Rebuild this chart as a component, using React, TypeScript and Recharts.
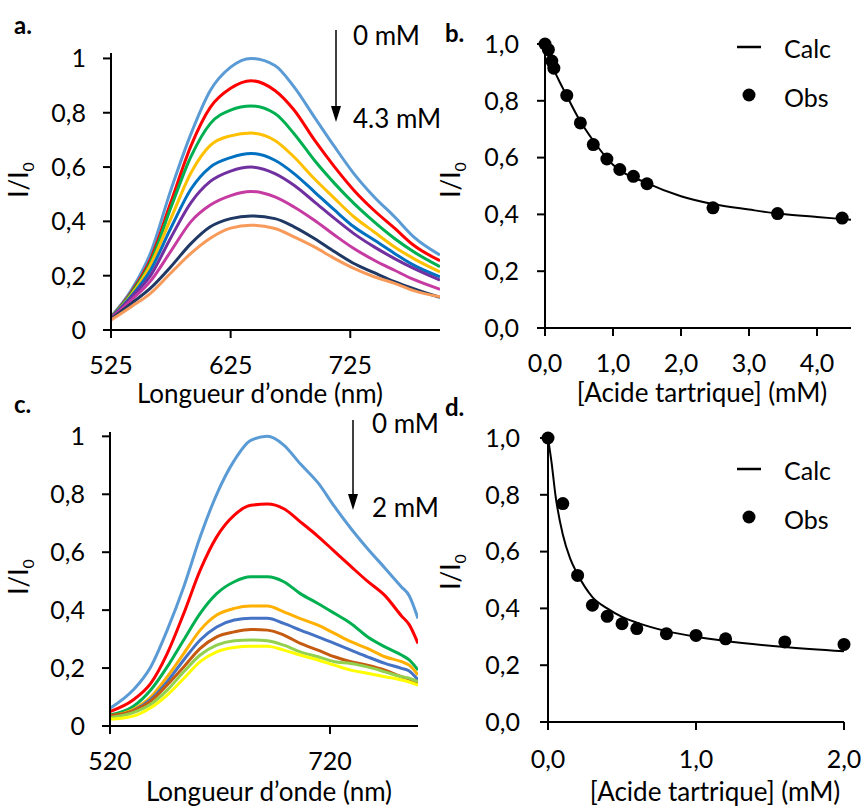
import { ComposedChart, Label, Legend, Line, LineChart, Scatter, XAxis, YAxis } from 'recharts'

const font = 'Lato, "Open Sans", sans-serif'

// panel a: emission spectra, 0 -> 4.3 mM
const wlA = [525, 542, 558, 575, 592, 608, 625, 642, 662, 678, 695, 712, 728, 745, 762, 778, 800]
const a1 = [0.049, 0.147, 0.283, 0.515, 0.724, 0.882, 0.968, 1.0, 0.974, 0.895, 0.784, 0.674, 0.576, 0.49, 0.417, 0.343, 0.276]
const a2 = [0.047, 0.14, 0.26, 0.47, 0.68, 0.82, 0.89, 0.918, 0.882, 0.81, 0.7, 0.6, 0.515, 0.44, 0.375, 0.312, 0.255]
const a3 = [0.046, 0.136, 0.25, 0.45, 0.64, 0.76, 0.81, 0.825, 0.797, 0.723, 0.625, 0.539, 0.466, 0.398, 0.337, 0.288, 0.233]
const a4 = [0.045, 0.13, 0.24, 0.41, 0.58, 0.68, 0.715, 0.725, 0.698, 0.637, 0.557, 0.484, 0.417, 0.361, 0.306, 0.263, 0.214]
const a5 = [0.044, 0.125, 0.22, 0.375, 0.52, 0.6, 0.635, 0.65, 0.625, 0.576, 0.509, 0.441, 0.38, 0.331, 0.282, 0.239, 0.196]
const a6 = [0.043, 0.12, 0.2, 0.34, 0.47, 0.547, 0.585, 0.6, 0.576, 0.533, 0.472, 0.41, 0.355, 0.306, 0.263, 0.227, 0.184]
const a7 = [0.042, 0.11, 0.18, 0.29, 0.4, 0.46, 0.495, 0.51, 0.49, 0.453, 0.404, 0.349, 0.3, 0.257, 0.22, 0.186, 0.15]
const a8 = [0.04, 0.098, 0.154, 0.233, 0.319, 0.38, 0.41, 0.42, 0.41, 0.38, 0.337, 0.288, 0.245, 0.211, 0.178, 0.152, 0.12]
const a9 = [0.037, 0.086, 0.135, 0.21, 0.283, 0.338, 0.375, 0.386, 0.374, 0.343, 0.306, 0.263, 0.227, 0.196, 0.172, 0.145, 0.122]
const seriesA = [a1, a2, a3, a4, a5, a6, a7, a8, a9]
const colorsA = ['#5B9BD5', '#FF0000', '#00B050', '#FFC000', '#0070C0', '#7030A0', '#C63BA2', '#203864', '#F79A5A']

// panel c: emission spectra, 0 -> 2 mM
const wlC = [520, 541, 557, 572, 587, 602, 617, 633, 648, 663, 678, 693, 709, 724, 739, 754, 770, 785, 792, 800]
const c1 = [0.061, 0.124, 0.204, 0.331, 0.48, 0.653, 0.8, 0.917, 0.986, 1.0, 0.97, 0.905, 0.84, 0.758, 0.682, 0.613, 0.545, 0.48, 0.45, 0.371]
const c2 = [0.05, 0.09, 0.147, 0.25, 0.388, 0.538, 0.653, 0.728, 0.762, 0.766, 0.75, 0.705, 0.655, 0.603, 0.551, 0.5, 0.45, 0.38, 0.35, 0.285]
const c3 = [0.038, 0.067, 0.124, 0.204, 0.297, 0.389, 0.457, 0.498, 0.515, 0.515, 0.498, 0.457, 0.423, 0.389, 0.354, 0.308, 0.273, 0.245, 0.228, 0.193]
const c4 = [0.034, 0.057, 0.1, 0.17, 0.25, 0.331, 0.383, 0.406, 0.414, 0.414, 0.394, 0.371, 0.348, 0.32, 0.291, 0.268, 0.239, 0.222, 0.21, 0.176]
const c5 = [0.029, 0.052, 0.092, 0.153, 0.228, 0.297, 0.342, 0.366, 0.372, 0.372, 0.354, 0.331, 0.308, 0.285, 0.262, 0.239, 0.216, 0.199, 0.19, 0.159]
const c6 = [0.036, 0.052, 0.086, 0.142, 0.204, 0.268, 0.308, 0.325, 0.333, 0.331, 0.314, 0.285, 0.262, 0.239, 0.222, 0.21, 0.193, 0.17, 0.162, 0.147]
const c7 = [0.029, 0.046, 0.075, 0.124, 0.187, 0.245, 0.279, 0.294, 0.297, 0.294, 0.279, 0.256, 0.239, 0.222, 0.216, 0.204, 0.187, 0.17, 0.165, 0.153]
const c8 = [0.023, 0.034, 0.063, 0.107, 0.164, 0.222, 0.256, 0.271, 0.275, 0.275, 0.262, 0.245, 0.228, 0.21, 0.193, 0.182, 0.17, 0.159, 0.152, 0.141]
const seriesC = [c1, c2, c3, c4, c5, c6, c7, c8]
const colorsC = ['#5B9BD5', '#FF0000', '#00B050', '#FFB000', '#4472C4', '#C55A11', '#92D050', '#FFFF00']

// panel b: quenching, tartaric acid up to 4.3 mM
const obsBx = [0, 0.05, 0.1, 0.13, 0.32, 0.52, 0.71, 0.91, 1.1, 1.3, 1.5, 2.47, 3.42, 4.37]
const obsBy = [1.0, 0.98, 0.94, 0.915, 0.819, 0.722, 0.646, 0.595, 0.558, 0.534, 0.508, 0.423, 0.403, 0.387]
const calcBx = [0, 0.1, 0.2, 0.3, 0.5, 0.7, 1.0, 1.5, 2.0, 2.5, 3.0, 3.5, 4.0, 4.5]
const calcBy = [1.0, 0.927, 0.874, 0.827, 0.736, 0.663, 0.575, 0.51, 0.464, 0.435, 0.417, 0.401, 0.391, 0.381]

// panel d: quenching, tartaric acid up to 2 mM
const obsDx = [0, 0.1, 0.2, 0.3, 0.4, 0.5, 0.6, 0.8, 1.0, 1.2, 1.6, 2.0]
const obsDy = [1.0, 0.769, 0.516, 0.411, 0.372, 0.346, 0.329, 0.311, 0.305, 0.293, 0.282, 0.273]
const calcDx = [0, 0.025, 0.05, 0.1, 0.15, 0.2, 0.3, 0.4, 0.5, 0.6, 0.8, 1.0, 1.2, 1.6, 2.0]
const calcDy = [1.0, 0.91, 0.8, 0.66, 0.575, 0.52, 0.44, 0.4, 0.37, 0.35, 0.32, 0.3, 0.285, 0.264, 0.249]

const fracTicks = [0, 0.2, 0.4, 0.6, 0.8, 1]

const rows = (xs: number[], cols: number[][]) =>
  xs.map((wl, i) => {
    const r: Record<string, number> = { wl }
    cols.forEach((c, k) => (r['s' + k] = c[i]))
    return r
  })
const pts = (xs: number[], ys: number[]) => xs.map((x, i) => ({ x, y: ys[i] }))

const commaOne = (v: number) => v.toFixed(1).replace('.', ',')
const plainFrac = (v: number) => (v === 0 ? '0' : v === 1 ? '1' : commaOne(v))

const axisStyle = { stroke: '#000', strokeWidth: 2 }
const tickStyle = { fill: '#000', fontSize: 25, fontFamily: font }

const yTitle = (cx: number, cy: number) => () => (
  <text x={cx} y={cy} transform={`rotate(-90, ${cx}, ${cy})`} textAnchor="middle" fontSize={26} fontFamily={font} fill="#000">
    I/I
    <tspan fontSize={16} dy={6}>0</tspan>
  </text>
)
const xTitle = (cx: number, cy: number, text: string) => () => (
  <text x={cx} y={cy} textAnchor="middle" dominantBaseline="central" fontSize={26} fontFamily={font} fill="#000">
    {text}
  </text>
)

const dot = (props: any) => <circle cx={props.cx} cy={props.cy} r={6.5} fill="#000" />

function LegendBox() {
  return (
    <svg width={110} height={80} style={{ overflow: 'visible' }}>
      <line x1={0} y1={10} x2={24} y2={10} stroke="#000" strokeWidth={2.5} />
      <text x={47} y={11} dominantBaseline="central" fontSize={25} fontFamily={font}>Calc</text>
      <circle cx={12} cy={58} r={6.5} fill="#000" />
      <text x={47} y={60} dominantBaseline="central" fontSize={25} fontFamily={font}>Obs</text>
    </svg>
  )
}

function Note({ x, y, text, bold }: { x: number; y: number; text: string; bold?: boolean }) {
  return (
    <div
      style={{
        position: 'absolute', left: x, top: y, transform: 'translateY(-50%)', fontFamily: font,
        fontSize: bold ? 24 : 26, fontWeight: bold ? 700 : 400, lineHeight: 1, whiteSpace: 'nowrap',
      }}
    >
      {text}
    </div>
  )
}

function Spectra({ data, colors, domainX, ticksX, yMax, margin, width, height, xTitleAt, yTitleAt }: any) {
  return (
    <LineChart width={width} height={height} data={data} margin={margin}>
      <XAxis dataKey="wl" type="number" domain={domainX} ticks={ticksX} height={height - margin.top - margin.bottom - (yMax.plotH)} allowDataOverflow
        axisLine={axisStyle} tickLine={axisStyle} tickSize={8} tickMargin={18} tick={tickStyle}>
        <Label content={xTitle(xTitleAt[0], xTitleAt[1], 'Longueur d\u2019onde (nm)')} />
      </XAxis>
      <YAxis type="number" domain={[0, yMax.top]} ticks={fracTicks} width={margin.yw} tickFormatter={plainFrac}
        axisLine={axisStyle} tickLine={axisStyle} tickSize={8} tickMargin={17} tick={tickStyle}>
        <Label content={yTitle(yTitleAt[0], yTitleAt[1])} />
      </YAxis>
      {colors.map((c: string, k: number) => (
        <Line key={k} type="monotone" dataKey={'s' + k} stroke={c} strokeWidth={3} dot={false} isAnimationActive={false} />
      ))}
    </LineChart>
  )
}

function Quench({ calc, obs, domainX, ticksX, width, height, top, right, yw, plotH, tickMarginX, tickMarginY, xTitleAt, yTitleAt, legendAt }: any) {
  return (
    <ComposedChart width={width} height={height} margin={{ top, right, bottom: 0, left: 0 }}>
      <XAxis dataKey="x" type="number" domain={domainX} ticks={ticksX} height={height - top - plotH} tickFormatter={commaOne}
        axisLine={axisStyle} tickLine={axisStyle} tickSize={8} tickMargin={tickMarginX} tick={tickStyle}>
        <Label content={xTitle(xTitleAt[0], xTitleAt[1], '[Acide tartrique]  (mM)')} />
      </XAxis>
      <YAxis type="number" domain={[0, 1]} ticks={fracTicks} width={yw} tickFormatter={commaOne}
        axisLine={axisStyle} tickLine={axisStyle} tickSize={8} tickMargin={tickMarginY} tick={tickStyle}>
        <Label content={yTitle(yTitleAt[0], yTitleAt[1])} />
      </YAxis>
      <Line data={calc} dataKey="y" type="monotone" stroke="#000" strokeWidth={2} dot={false} isAnimationActive={false} />
      <Scatter data={obs} dataKey="y" fill="#000" shape={dot} isAnimationActive={false} />
      <Legend layout="vertical" align="center" verticalAlign="middle" content={() => <LegendBox />}
        wrapperStyle={{ position: 'absolute', left: legendAt[0], top: legendAt[1], width: 110, height: 80 }} />
    </ComposedChart>
  )
}

export default function App() {
  return (
    <div style={{ position: 'absolute', left: 0, top: 0, width: 865, height: 808, background: '#fff', fontFamily: font }}>
      <div style={{ position: 'absolute', left: 0, top: 0 }}>
        <Spectra data={rows(wlA, seriesA)} colors={colorsA} domainX={[525, 800]} ticksX={[525, 625, 725]}
          yMax={{ top: 1.02, plotH: 277 }} margin={{ top: 53, right: 5, bottom: 0, left: 0, yw: 111 }}
          width={445} height={410} xTitleAt={[260, 393]} yTitleAt={[28, 180]} />
      </div>
      <div style={{ position: 'absolute', left: 430, top: 0 }}>
        <Quench calc={pts(calcBx, calcBy)} obs={pts(obsBx, obsBy)} domainX={[0, 4.5]} ticksX={[0, 1, 2, 3, 4]}
          width={435} height={410} top={44} right={14} yw={115} plotH={284} tickMarginX={18} tickMarginY={18}
          xTitleAt={[272, 392]} yTitleAt={[30, 180]} legendAt={[307, 37]} />
      </div>
      <div style={{ position: 'absolute', left: 0, top: 390 }}>
        <Spectra data={rows(wlC, seriesC)} colors={colorsC} domainX={[520, 800]} ticksX={[520, 720]}
          yMax={{ top: 1.015, plotH: 294 }} margin={{ top: 42, right: 22, bottom: 0, left: 0, yw: 110 }}
          width={440} height={418} xTitleAt={[269, 401]} yTitleAt={[28, 187]} />
      </div>
      <div style={{ position: 'absolute', left: 430, top: 390 }}>
        <Quench calc={pts(calcDx, calcDy)} obs={pts(obsDx, obsDy)} domainX={[0, 2]} ticksX={[0, 1, 2]}
          width={435} height={418} top={48} right={21} yw={118} plotH={284} tickMarginX={20} tickMarginY={20}
          xTitleAt={[285, 401]} yTitleAt={[30, 182]} legendAt={[307, 69]} />
      </div>

      <Note x={14} y={25} text="a." bold />
      <Note x={445} y={33} text="b." bold />
      <Note x={14} y={404} text="c." bold />
      <Note x={445} y={407} text="d." bold />
      <Note x={353} y={35} text="0 mM" />
      <Note x={353} y={118} text="4.3 mM" />
      <Note x={372} y={423} text="0 mM" />
      <Note x={372} y={507} text="2 mM" />

      <svg width={865} height={808} style={{ position: 'absolute', left: 0, top: 0, pointerEvents: 'none' }}>
        <line x1={336} y1={30} x2={336} y2={112} stroke="#000" strokeWidth={1.5} />
        <polygon points="331,106 341,106 336,122" fill="#000" />
        <line x1={353} y1={420} x2={353} y2={500} stroke="#000" strokeWidth={1.5} />
        <polygon points="348,494 358,494 353,510" fill="#000" />
      </svg>
    </div>
  )
}
